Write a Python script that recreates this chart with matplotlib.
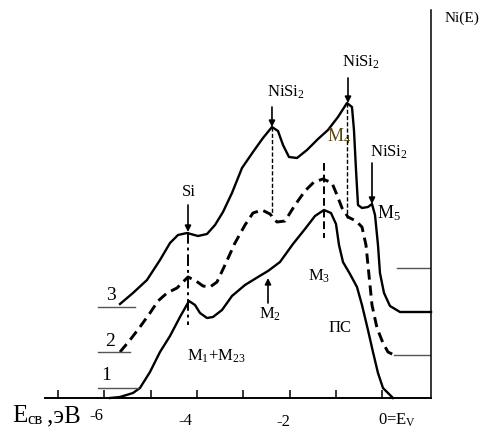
import matplotlib
matplotlib.use("Agg")
from matplotlib import pyplot as plt

plt.rcParams["font.family"] = ["Liberation Serif", "DejaVu Serif"]
plt.rcParams["mathtext.fontset"] = "custom"
plt.rcParams["mathtext.rm"] = "Liberation Serif"
plt.rcParams["mathtext.it"] = "Liberation Serif"

# binding energy (eV) and N(E) in arbitrary units
e1 = [-5.875, -5.659, -5.379, -5.228, -5.012, -4.796, -4.580, -4.365, -4.170,
      -4.041, -3.933, -3.782, -3.653, -3.458, -3.243, -2.962, -2.682, -2.466,
      -2.207, -1.927, -1.668, -1.452, -1.258, -1.107, -0.999, -0.934, -0.848,
      -0.697, -0.546, -0.438, -0.309, -0.201, -0.093, 0.015, 0.231]
n1 = [0.00, 0.01, 0.05, 0.10, 0.26, 0.46, 0.62, 0.81, 0.97,
      0.93, 0.85, 0.80, 0.81, 0.88, 1.02, 1.13, 1.21, 1.27,
      1.36, 1.54, 1.69, 1.82, 1.88, 1.85, 1.74, 1.53, 1.36,
      1.24, 1.11, 0.93, 0.68, 0.46, 0.25, 0.10, 0.00]

e2 = [-5.659, -5.443, -5.228, -5.012, -4.839, -4.645, -4.429, -4.192, -4.019,
      -3.868, -3.717, -3.566, -3.394, -3.178, -2.962, -2.790, -2.595, -2.423,
      -2.272, -2.099, -1.883, -1.668, -1.474, -1.279, -1.085, -0.977, -0.869,
      -0.740, -0.567, -0.438, -0.352, -0.287, -0.222, -0.114, 0.015, 0.123, 0.252]
n2 = [0.46, 0.58, 0.71, 0.85, 0.97, 1.05, 1.10, 1.21, 1.17,
      1.12, 1.11, 1.16, 1.33, 1.55, 1.73, 1.85, 1.88, 1.84,
      1.76, 1.77, 1.93, 2.07, 2.16, 2.19, 2.15, 2.03, 1.90,
      1.81, 1.77, 1.71, 1.53, 1.23, 0.93, 0.70, 0.55, 0.46, 0.43]

e3 = [-5.659, -5.379, -5.077, -4.796, -4.580, -4.408, -4.213, -3.976, -3.782,
      -3.609, -3.437, -3.243, -3.027, -2.790, -2.574, -2.380, -2.250, -2.142,
      -2.013, -1.840, -1.625, -1.387, -1.172, -0.956, -0.762, -0.654, -0.611,
      -0.567, -0.524, -0.438, -0.309, -0.222, -0.157, -0.093, -0.050, 0.037,
      0.166, 0.382, 1.051]
n3 = [0.94, 1.05, 1.18, 1.38, 1.55, 1.63, 1.65, 1.62, 1.64,
      1.73, 1.86, 2.05, 2.30, 2.46, 2.60, 2.71, 2.67, 2.53,
      2.41, 2.40, 2.48, 2.59, 2.68, 2.81, 2.95, 2.91, 2.68,
      2.28, 1.93, 1.90, 1.91, 1.94, 1.83, 1.53, 1.25, 1.05,
      0.92, 0.86, 0.86]

x_min, x_max = -7.277, 1.051
y_top = 3.88
ticks = [-7, -6, -5, -4, -3, -2, -1, 0]

fig = plt.figure(figsize=(4.92, 4.30), dpi=100)
ax = fig.add_axes([45 / 492, 32 / 430, 386 / 492, 388 / 430])
ax.set_xlim(x_min, x_max)
ax.set_ylim(0, y_top)
for s in ["left", "top"]:
    ax.spines[s].set_visible(False)
ax.spines["bottom"].set_linewidth(1.4)
ax.spines["right"].set_linewidth(1.1)
ax.set_yticks([])
ax.set_xticks(ticks)
ax.set_xticklabels([])
ax.tick_params(axis="x", direction="in", length=6, width=1.1)

ax.plot(e1, n1, color="black", lw=1.7, clip_on=False)
ax.plot(e2, n2, color="black", lw=2.1, linestyle=(0, (3.5, 2)), clip_on=False)
ax.plot(e3, n3, color="black", lw=1.7, clip_on=False)

# baseline markers on the right
ax.plot([0.252, x_max], [0.43, 0.43], color="#555555", lw=1.0)
ax.plot([0.317, x_max], [1.30, 1.30], color="#555555", lw=1.0)

# curve number labels with underlines
ax.plot([-6.138, -5.336], [0.91, 0.91], color="#555555", lw=1.0)
ax.plot([-6.138, -5.443], [0.46, 0.46], color="#555555", lw=1.0)
ax.plot([-6.138, -5.271], [0.10, 0.10], color="#555555", lw=1.0)
ax.text(-5.853, 1.02, "3", fontsize=14, ha="center", va="center")
ax.text(-5.875, 0.57, "2", fontsize=14, ha="center", va="center")
ax.text(-5.961, 0.23, "1", fontsize=14, ha="center", va="center")

# vertical guide lines
ax.plot([-4.192, -4.192], [1.66, 0.73], color="black", lw=1.4, linestyle=(0, (6, 2, 1.5, 2)))
ax.plot([-2.380, -2.380], [2.71, 1.83], color="black", lw=1.0, linestyle=(0, (3, 1.5)))
ax.plot([-0.762, -0.762], [2.95, 1.80], color="black", lw=1.0, linestyle=(0, (3, 1.5)))
ax.plot([-1.258, -1.258], [2.35, 1.60], color="black", lw=1.4, linestyle=(0, (4, 2)))

arrow = dict(arrowstyle="-|>", color="black", lw=1.2, mutation_scale=9, shrinkA=0, shrinkB=0)
ax.annotate("", xy=(-4.192, 1.66), xytext=(-4.192, 1.93), arrowprops=arrow)
ax.annotate("", xy=(-2.380, 2.71), xytext=(-2.380, 2.91), arrowprops=arrow)
ax.annotate("", xy=(-0.740, 2.95), xytext=(-0.740, 3.20), arrowprops=arrow)
ax.annotate("", xy=(-0.222, 1.94), xytext=(-0.222, 2.35), arrowprops=arrow)
ax.annotate("", xy=(-2.466, 1.20), xytext=(-2.466, 0.95), arrowprops=arrow)

fs = 12
ax.text(-4.324, 2.06, "Si", fontsize=fs, ha="left", va="center")
ax.text(-2.488, 3.06, r"NiSi$_2$", fontsize=fs, ha="left", va="center")
ax.text(-0.869, 3.36, r"NiSi$_2$", fontsize=fs, ha="left", va="center")
ax.text(-0.265, 2.46, r"NiSi$_2$", fontsize=fs, ha="left", va="center")
ax.text(-1.194, 2.62, r"M$_4$", fontsize=fs + 1, ha="left", va="center", color="#5a4312")
ax.text(-0.114, 1.85, r"M$_5$", fontsize=fs + 1, ha="left", va="center")
ax.text(-1.368, 1.22, r"M$_3$", fontsize=fs, ha="center", va="center")
ax.text(-2.425, 0.84, r"M$_2$", fontsize=fs, ha="center", va="center")
ax.text(-4.214, 0.42, r"M$_1$+M$_{23}$", fontsize=fs, ha="left", va="center")
ax.text(-0.913, 0.70, "ПС", fontsize=fs, ha="center", va="center")
ax.text(1.720, 3.80, "Ni(E)", fontsize=11, ha="center", va="center")

# tick labels
ax.text(-6.178, -0.18, "-6", fontsize=fs, ha="center", va="center")
ax.text(-4.240, -0.23, "-4", fontsize=fs, ha="center", va="center")
ax.text(-2.142, -0.24, "-2", fontsize=fs, ha="center", va="center")
ax.text(-0.093, -0.22, r"0=E$_\mathrm{V}$", fontsize=fs, ha="left", va="center")

# axis name
fig.text(12 / 492, 1 - 422 / 430, "E", fontsize=18, ha="left", va="baseline")
fig.text(27 / 492, 1 - 424 / 430, "св", fontsize=12, ha="left", va="baseline")
fig.text(47 / 492, 1 - 422 / 430, ",эВ", fontsize=18, ha="left", va="baseline")

fig.savefig("out.png", dpi=100)
